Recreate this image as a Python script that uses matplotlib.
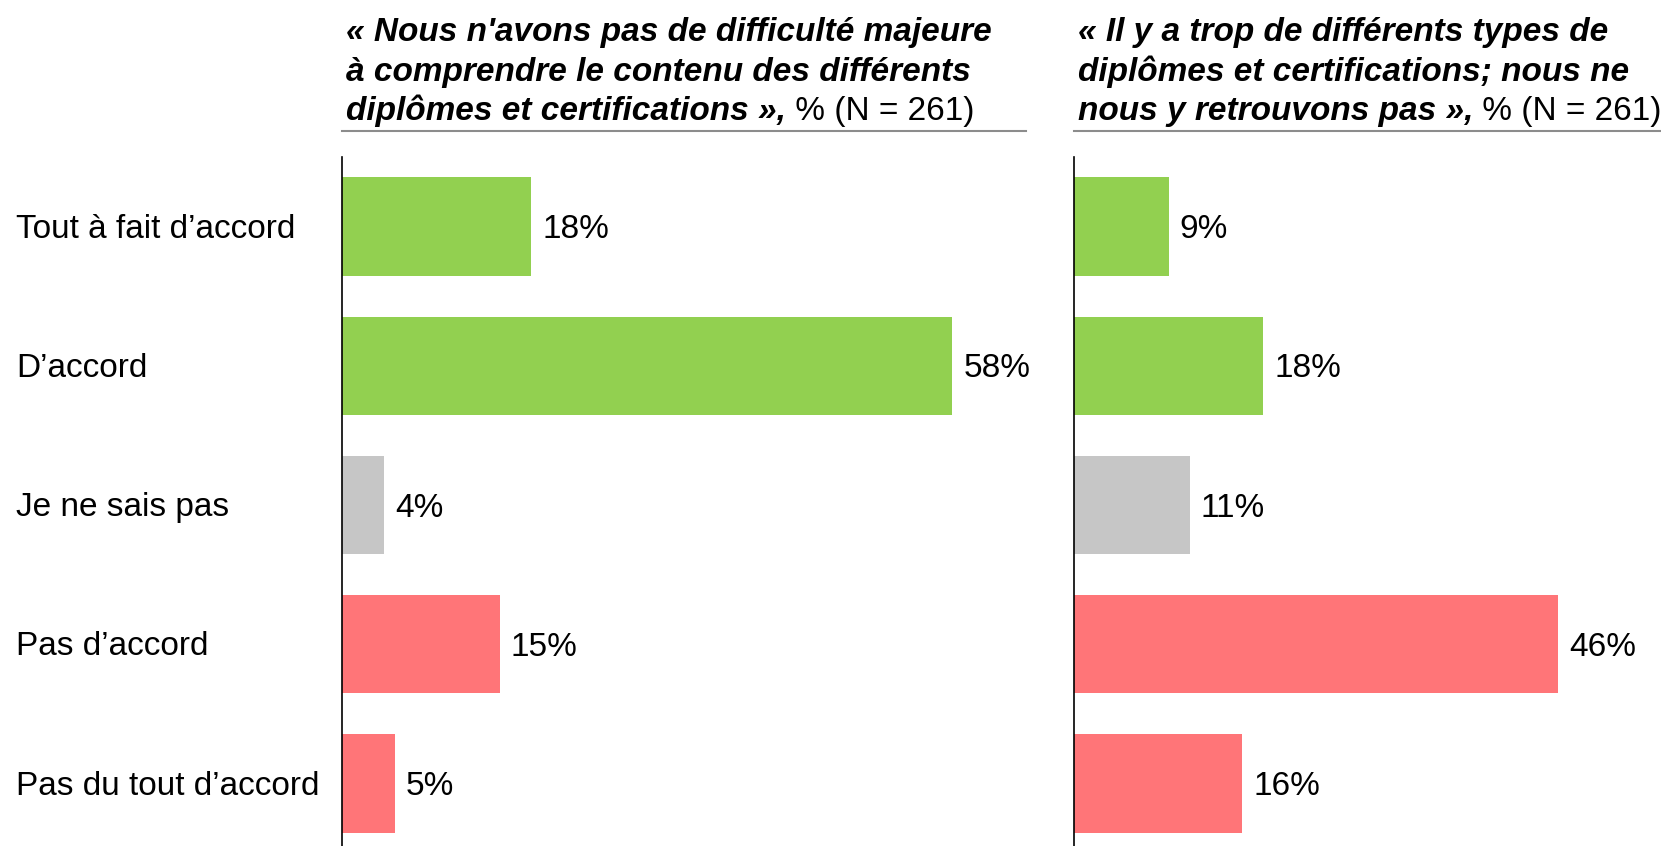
import matplotlib
matplotlib.use("Agg")
import matplotlib.pyplot as plt
from matplotlib.lines import Line2D

plt.rcParams['font.family'] = ['Liberation Sans', 'DejaVu Sans']

categories = ["Tout à fait d’accord", "D’accord", "Je ne sais pas", "Pas d’accord", "Pas du tout d’accord"]
values_left = [18, 58, 4, 15, 5]
values_right = [9, 18, 11, 46, 16]
bar_colors = ["#92D050", "#92D050", "#C6C6C6", "#FF7578", "#FF7578"]

title_left_bold = ["« Nous n'avons pas de difficulté majeure",
                   "à comprendre le contenu des différents",
                   "diplômes et certifications »,"]
title_right_bold = ["« Il y a trop de différents types de",
                    "diplômes et certifications; nous ne",
                    "nous y retrouvons pas »,"]
title_suffix = " % (N = 261)"

W, H = 1661, 846
fig = plt.figure(figsize=(W / 100, H / 100), dpi=100)

px_per_pct = 10.52
ax_top = 157
panels = [
    (342, 684, values_left, title_left_bold),
    (1074, 587, values_right, title_right_bold),
]

FS = 24
renderer = fig.canvas.get_renderer()

for left_px, width_px, vals, tlines in panels:
    ax = fig.add_axes([left_px / W, 0, width_px / W, (H - ax_top) / H])
    ypos = list(range(len(categories)))
    ax.barh(ypos, vals, height=0.707, color=bar_colors)
    ax.set_xlim(0, width_px / px_per_pct)
    ax.set_ylim(4.45, -0.5)
    for s in ["top", "right", "bottom"]:
        ax.spines[s].set_visible(False)
    ax.spines["left"].set_color("black")
    ax.spines["left"].set_linewidth(1.2)
    ax.set_xticks([])
    ax.set_yticks([])
    for y, v in zip(ypos, vals):
        ax.annotate(f"{v}%", xy=(v, y), xytext=(8.0, -2.2), textcoords="offset points",
                    va="center", ha="left", fontsize=FS, color="black")

    # title
    x0 = (left_px + 4) / W
    baselines = [41, 80.5, 120]
    last = None
    for line, b in zip(tlines, baselines):
        last = fig.text(x0, 1 - b / H, line, fontsize=FS, fontweight="bold",
                        fontstyle="italic", va="baseline", ha="left")
    bb = last.get_window_extent(renderer=renderer)
    fig.text(bb.x1 / W, 1 - baselines[-1] / H, title_suffix, fontsize=FS,
             va="baseline", ha="left")
    # underline
    fig.add_artist(Line2D([left_px / W, (left_px + width_px) / W], [1 - 131 / H] * 2,
                          color="#8C8C8C", lw=1.5, transform=fig.transFigure))

# category labels
for i, c in enumerate(categories):
    yc = 226 + 139.3 * i + 3
    fig.text(16 / W, 1 - yc / H, c, fontsize=FS, va="center", ha="left")

fig.savefig("out.png", dpi=100)
